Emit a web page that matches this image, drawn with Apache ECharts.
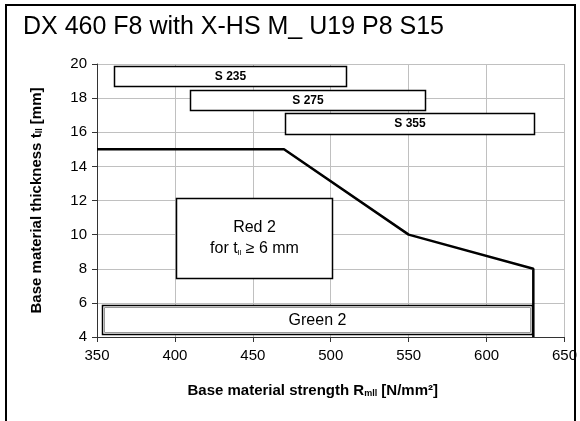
<!DOCTYPE html>
<html>
<head>
<meta charset="utf-8">
<script src="https://cdn.jsdelivr.net/npm/echarts@6/dist/echarts.min.js"></script>
<style>
    html, body { margin: 0; padding: 0; background: #fff; }
    #chart { width: 580px; height: 421px; }
</style>
</head>
<body>
<div id="chart"></div>
<script>
    // boundary line (strength, thickness)
    var lineX = [350, 470, 550, 630, 630];
    var lineY = [15, 15, 10, 8, 4];

    // label boxes in data units
    var boxNames = ['S 235', 'S 275', 'S 355', 'Red 2', 'Green 2'];
    var boxX0 = [361, 410, 470.5, 401, 353.5];
    var boxX1 = [510, 560.5, 630.5, 501, 629.5];
    var boxY0 = [18.75, 17.3, 15.9, 7.45, 4.15];
    var boxY1 = [19.9, 18.5, 17.15, 12.15, 5.85];

    var xTicks = [350, 400, 450, 500, 550, 600, 650];
    var yTicks = [4, 6, 8, 10, 12, 14, 16, 18, 20];

    var font = 'Arial, "Liberation Sans", sans-serif';

    var lineData = lineX.map(function (x, i) { return [x, lineY[i]]; });
    var boxData = boxNames.map(function (n, i) {
        return [boxX0[i], boxX1[i], boxY0[i], boxY1[i], i];
    });

    var chart = echarts.init(document.getElementById('chart'));

    // white text boxes drawn on the plot scale
    function renderBox(params, api) {
        var i = api.value(4);
        var p0 = api.coord([api.value(0), api.value(3)]);
        var p1 = api.coord([api.value(1), api.value(2)]);
        var x = Math.round(p0[0]) + 0.5, y = Math.round(p0[1]) + 0.5;
        var w = Math.round(p1[0] - p0[0]), h = Math.round(p1[1] - p0[1]);
        var name = boxNames[i];
        var children = [{
            type: 'rect',
            shape: { x: x, y: y, width: w, height: h },
            style: { fill: '#fff', stroke: '#000', lineWidth: 1.5 }
        }];
        var txt;
        if (name === 'Red 2') {
            txt = {
                type: 'text',
                style: {
                    x: x + w / 2, y: y + h / 2,
                    text: '{n|Red 2}\n{n|for t}{s|ll}{n| ≥ 6 mm}',
                    align: 'center', verticalAlign: 'middle',
                    rich: {
                        n: { font: '16px ' + font, fill: '#000', lineHeight: 21 },
                        s: { font: '8px ' + font, fill: '#000', lineHeight: 21, padding: [7, 0, 0, 0] }
                    }
                }
            };
        } else if (name === 'Green 2') {
            children.push({
                type: 'rect',
                shape: { x: x + 2, y: y + 2, width: w - 4, height: h - 4 },
                style: { fill: 'none', stroke: '#999', lineWidth: 1 }
            });
            txt = {
                type: 'text',
                style: {
                    x: x + w / 2, y: y + h / 2 + 1, text: name,
                    font: '16px ' + font, fill: '#000',
                    align: 'center', verticalAlign: 'middle'
                }
            };
        } else {
            txt = {
                type: 'text',
                style: {
                    x: x + w / 2, y: y + h / 2, text: name,
                    font: 'bold 12px ' + font, fill: '#000',
                    align: 'center', verticalAlign: 'middle'
                }
            };
        }
        children.push(txt);
        return { type: 'group', children: children };
    }

    var nameRich = {
        b: { fontFamily: font, fontSize: 15, fontWeight: 'bold', color: '#000' },
        s: { fontFamily: font, fontSize: 9, fontWeight: 'bold', color: '#000', padding: [6, 0, 0, 0] }
    };

    var option = {
        animation: false,
        backgroundColor: '#fff',
        title: {
            text: 'DX 460 F8 with X-HS M_ U19 P8 S15',
            left: 18, top: 10,
            textStyle: { fontFamily: font, fontSize: 25, fontWeight: 'normal', color: '#000' }
        },
        graphic: [{
            type: 'rect',
            shape: { x: 6, y: 5, width: 569, height: 430 },
            style: { fill: 'none', stroke: '#000', lineWidth: 2 },
            silent: true
        }],
        grid: { left: 97, right: 12, top: 64, bottom: 84 },
        xAxis: {
            type: 'value',
            min: xTicks[0], max: xTicks[xTicks.length - 1], interval: 50,
            name: '{b|Base material strength R}{s|mll}{b| [N/mm²]}',
            nameLocation: 'middle', nameGap: 46,
            nameTextStyle: { rich: nameRich, padding: [0, 36, 0, 0] },
            axisLine: { lineStyle: { color: '#333', width: 1 } },
            axisTick: { show: true, length: 5, lineStyle: { color: '#333' } },
            axisLabel: { margin: 11, fontFamily: font, fontSize: 15, color: '#000' },
            splitLine: { show: true, lineStyle: { color: '#c0c0c0', width: 1 } }
        },
        yAxis: {
            type: 'value',
            min: yTicks[0], max: yTicks[yTicks.length - 1], interval: 2,
            name: '{b|Base material thickness t}{s|ll}{b| [mm]}',
            nameLocation: 'middle', nameGap: 53,
            nameTextStyle: { rich: nameRich },
            axisLine: { show: true, lineStyle: { color: '#333', width: 1 } },
            axisTick: { show: true, length: 5, lineStyle: { color: '#333' } },
            axisLabel: { margin: 10, fontFamily: font, fontSize: 15, color: '#000' },
            splitLine: { show: true, lineStyle: { color: '#c0c0c0', width: 1 } }
        },
        series: [{
            type: 'custom',
            renderItem: renderBox,
            data: boxData,
            encode: { x: [0, 1], y: [2, 3] },
            z: 2
        }, {
            type: 'line',
            data: lineData,
            symbol: 'none',
            lineStyle: { color: '#000', width: 2.5 },
            z: 3
        }]
    };

    chart.setOption(option);
</script>
</body>
</html>
